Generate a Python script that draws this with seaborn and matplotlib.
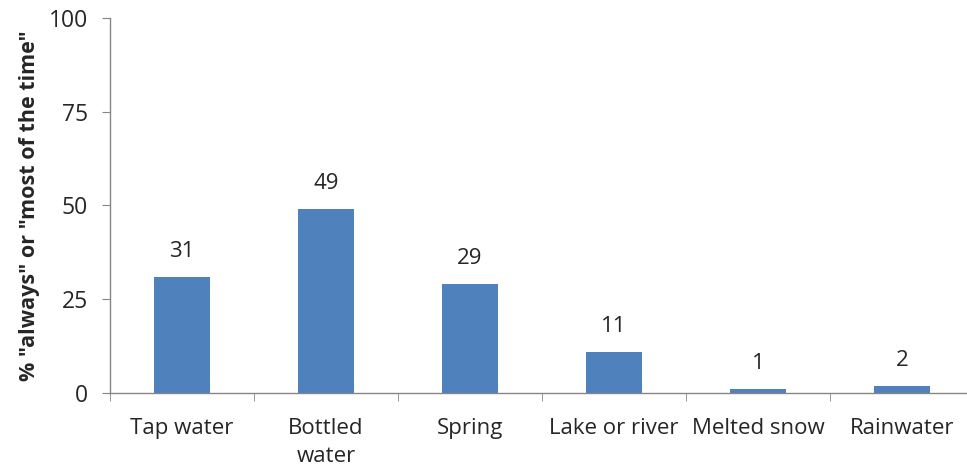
import seaborn as sns
import matplotlib.pyplot as plt
import numpy as np
import pandas as pd

sources = ["Tap water", "Bottled\nwater", "Spring", "Lake or river", "Melted snow", "Rainwater"]
percent = [31, 49, 29, 11, 1, 2]
yticks = [0, 25, 50, 75, 100]

df = pd.DataFrame({"source": sources, "percent": percent})

sns.set_style("white")
plt.rcParams['font.family'] = ['Open Sans', 'DejaVu Sans']

fig = plt.figure(figsize=(9.67, 4.73), dpi=100)
ax = fig.add_axes([110 / 967, 80 / 473, 864 / 967, 375 / 473])

sns.barplot(data=df, x="source", y="percent", color="#4F81BD", width=0.39,
            saturation=1, linewidth=0, ax=ax)

# value labels above bars
for i, v in enumerate(percent):
    ax.text(i, v + 4, str(v), ha="center", va="bottom", fontsize=16)

ax.set_xlim(-0.5, 5.5)
ax.set_ylim(0, 100)
ax.set_yticks(yticks)
ax.set_xlabel("")
ax.set_ylabel('% "always" or "most of the time"', fontsize=15.5, fontweight="bold", labelpad=6)

for side in ["top", "right"]:
    ax.spines[side].set_visible(False)
for side in ["left", "bottom"]:
    ax.spines[side].set_color("#868686")
    ax.spines[side].set_linewidth(1)

ax.tick_params(axis="y", which="major", left=True, length=6, color="#868686",
               labelsize=16.5, pad=10)
ax.tick_params(axis="x", which="major", length=0, labelsize=16, pad=18)
for lbl in ax.get_xticklabels():
    lbl.set_linespacing(1.45)
# tick marks between categories
ax.set_xticks(np.arange(-0.5, 6, 1), minor=True)
ax.tick_params(axis="x", which="minor", bottom=True, length=6, color="#868686")

fig.savefig("out.png", dpi=100)
